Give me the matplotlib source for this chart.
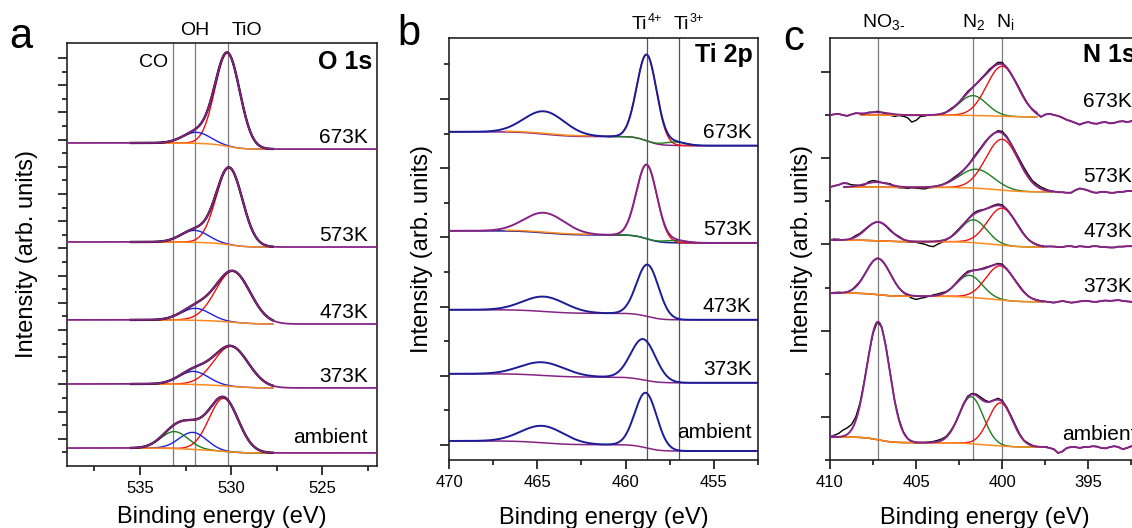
import numpy as np
import matplotlib.pyplot as plt
import matplotlib.transforms as mtransforms
from matplotlib.ticker import MultipleLocator, FixedLocator

plt.rcParams['font.family'] = ['Liberation Sans', 'DejaVu Sans']
plt.rcParams['mathtext.fontset'] = 'custom'
plt.rcParams['mathtext.rm'] = 'Liberation Sans'
plt.rcParams['mathtext.it'] = 'Liberation Sans:italic'
plt.rcParams['mathtext.bf'] = 'Liberation Sans:bold'

PURPLE = '#862486'
NAVY = '#1c1c96'
ORANGE = '#ff8a1c'
RED = '#ee1111'
GREEN = '#1e7d1e'
BLUE = '#2020dd'
LINE_GREY = '#7a7a7a'

TEMPS = ['673K', '573K', '473K', '373K', 'ambient']

# ---- O 1s (panel a), arb. units ----
O1S_BG_LEFT = [23.75, 16.47, 10.74, 6.03, 1.32]
O1S_BG_RIGHT = [23.30, 16.10, 10.44, 5.74, 0.96]
O1S_TIO_POS = [530.2, 530.1, 529.9, 530.0, 530.4]
O1S_TIO_HEIGHT = [6.84, 5.66, 3.75, 2.94, 3.90]
O1S_TIO_SIGMA = [0.68, 0.72, 0.95, 0.95, 0.80]
O1S_OH_POS = [531.9, 532.0, 531.95, 532.05, 532.1]
O1S_OH_HEIGHT = [0.81, 0.88, 0.88, 0.96, 1.25]
O1S_OH_SIGMA = [0.75, 0.75, 0.80, 0.80, 0.75]
O1S_CO_POS = [533.1, 533.1, 533.1, 533.1, 533.1]
O1S_CO_HEIGHT = [0.0, 0.0, 0.0, 0.0, 1.25]
O1S_CO_SIGMA = [0.75, 0.75, 0.75, 0.75, 0.75]
O1S_LINES = {'CO': 533.2, 'OH': 532.0, 'TiO': 530.15}

# ---- Ti 2p (panel b) ----
TI_BG_LEFT = [9.05, 6.19, 3.91, 2.06, 0.12]
TI_BG_RIGHT = [8.65, 5.84, 3.62, 1.80, -0.17]
TI_P32_POS = [458.8, 458.8, 458.75, 459.0, 458.85]
TI_P32_HEIGHT = [2.49, 2.14, 1.50, 1.18, 1.59]
TI_P32_SIGMA = [0.56, 0.58, 0.62, 0.70, 0.62]
TI_P12_POS = [464.6, 464.6, 464.6, 464.7, 464.7]
TI_P12_HEIGHT = [0.66, 0.58, 0.43, 0.38, 0.49]
TI_P12_SIGMA = [1.15, 1.15, 1.20, 1.25, 1.20]
TI3_POS = [457.2, 457.2, 457.2, 457.2, 457.2]
TI3_HEIGHT = [0.10, 0.07, 0.0, 0.0, 0.0]
TI3_SIGMA = [0.6, 0.6, 0.6, 0.6, 0.6]
TI_LINES = [458.8, 457.0]

# ---- N 1s (panel c) ----
N_BG_LEFT = [8.00, 6.33, 5.10, 3.87, 0.53]
N_BG_RIGHT = [7.96, 6.22, 4.94, 3.67, 0.30]
N_NI_POS = [400.0, 400.0, 400.0, 400.1, 400.1]
N_NI_HEIGHT = [1.16, 1.18, 0.86, 0.79, 1.00]
N_NI_SIGMA = [0.90, 0.95, 0.85, 0.85, 0.70]
N_N2_POS = [401.7, 401.5, 401.65, 401.9, 401.8]
N_N2_HEIGHT = [0.46, 0.44, 0.53, 0.51, 1.09]
N_N2_SIGMA = [0.80, 1.00, 0.75, 0.75, 0.70]
N_NO3_POS = [407.3, 407.3, 407.2, 407.2, 407.2]
N_NO3_HEIGHT = [0.07, 0.12, 0.44, 0.84, 2.74]
N_NO3_SIGMA = [0.70, 0.70, 0.70, 0.70, 0.66]
N_FIT_START = [408.2, 409.2, 409.8, 410.0, 410.0]
N_FIT_END = [398.0, 397.1, 397.6, 397.6, 397.4]
N_LINES = [407.2, 401.7, 400.0]

# raw-minus-fit residuals read every 0.25 eV from 410 to 392 eV
N_RESID = [
    [0.00, 0.02, 0.03, 0.00, -0.02, 0.01, 0.03, 0.01, -0.01, 0.01, 0.00, 0.02,
     0.00, -0.02, -0.04, -0.05, -0.02, -0.03, -0.06, -0.16, -0.12, -0.03, -0.02, 0.01,
     0.00, -0.02, -0.03, 0.00, 0.02, 0.01, 0.00, 0.02, 0.03, 0.01, 0.00, 0.02,
     0.02, 0.03, 0.02, 0.04, 0.04, 0.00, -0.02, 0.01, 0.03, 0.02, 0.00, -0.01,
     -0.02, -0.05, 0.03, 0.06, 0.04, 0.02, -0.02, -0.07, -0.10, -0.14, -0.18, -0.14,
     -0.12, -0.15, -0.16, -0.13, -0.12, -0.15, -0.14, -0.11, -0.10, -0.12, -0.10, -0.08,
     -0.09],
    [0.00, 0.03, 0.05, 0.09, 0.08, 0.04, 0.02, -0.01, -0.02, 0.03, 0.04, 0.02,
     0.00, 0.01, 0.02, -0.01, -0.03, -0.02, -0.03, -0.01, -0.02, -0.03, -0.04, -0.02,
     -0.02, 0.00, 0.00, 0.01, 0.02, 0.03, 0.02, 0.01, 0.00, 0.02, 0.03, 0.02,
     0.02, 0.01, 0.00, 0.03, 0.04, 0.03, 0.02, 0.03, 0.05, 0.06, 0.06, 0.04,
     0.05, 0.04, 0.03, 0.01, 0.00, -0.01, -0.01, -0.02, -0.02, 0.04, 0.08, 0.06,
     0.03, -0.01, -0.02, 0.00, 0.00, -0.02, -0.02, 0.00, 0.00, 0.02, 0.02, 0.01,
     0.00],
    [0.00, 0.02, 0.02, -0.01, -0.02, 0.01, 0.03, 0.02, 0.02, 0.01, 0.00, 0.00,
     0.00, -0.01, -0.02, 0.00, 0.02, 0.00, -0.03, -0.02, -0.02, -0.04, -0.06, -0.10,
     -0.12, -0.07, -0.04, -0.01, 0.00, 0.02, 0.02, 0.01, 0.00, 0.02, 0.03, 0.02,
     0.00, 0.01, 0.02, 0.03, 0.03, 0.01, 0.00, 0.01, 0.02, 0.01, 0.00, 0.00,
     0.01, 0.00, 0.00, 0.01, 0.01, 0.00, 0.00, 0.02, 0.02, 0.00, 0.02, 0.01,
     0.00, 0.02, 0.02, 0.00, 0.00, -0.01, -0.01, 0.01, 0.01, 0.02, 0.02, 0.00,
     0.00],
    [0.00, 0.01, 0.02, 0.00, -0.01, 0.00, 0.02, 0.01, 0.00, 0.00, 0.00, 0.01,
     0.00, 0.00, 0.01, 0.00, 0.00, -0.01, -0.03, -0.06, -0.08, -0.05, -0.03, 0.00,
     0.02, 0.03, 0.03, 0.01, 0.00, 0.01, 0.02, 0.02, 0.03, 0.01, 0.00, 0.01,
     0.02, 0.01, 0.00, 0.02, 0.03, 0.01, 0.00, 0.01, 0.02, 0.01, 0.00, 0.00,
     0.01, 0.00, 0.00, -0.01, -0.02, 0.00, 0.02, 0.00, -0.02, -0.01, 0.01, 0.02,
     0.02, 0.00, 0.00, 0.02, 0.03, 0.02, 0.03, 0.04, 0.02, 0.01, 0.00, 0.00,
     0.00],
    [0.00, 0.04, 0.08, 0.14, 0.15, 0.12, 0.08, 0.04, 0.02, 0.00, -0.02, 0.00,
     0.02, 0.03, 0.02, 0.00, 0.02, 0.01, 0.00, -0.02, -0.02, 0.00, 0.00, 0.01,
     0.02, 0.03, 0.03, 0.02, 0.02, 0.00, 0.00, 0.02, 0.03, 0.02, 0.03, 0.04,
     0.03, 0.00, 0.01, 0.03, 0.03, 0.02, 0.03, 0.04, 0.02, 0.00, 0.02, 0.01,
     0.00, 0.00, 0.00, -0.02, -0.05, -0.14, -0.10, -0.02, 0.00, 0.00, -0.02, 0.00,
     0.00, 0.02, 0.01, -0.02, -0.03, 0.00, 0.02, 0.00, -0.05, -0.02, 0.02, -0.01,
     -0.04],
]

W, H = 1132, 528


def gauss(x, pos, height, sigma):
    return height * np.exp(-0.5 * ((x - pos) / sigma) ** 2)


def shirley(x, left, right, peaks):
    # x runs from high to low binding energy
    cum = np.cumsum(peaks[::-1])[::-1]
    return right + (left - right) * cum / cum[0]


def axes_px(fig, left, top, right, bottom):
    return fig.add_axes([left / W, 1 - bottom / H, (right - left) / W, (bottom - top) / H])


def style_axes(ax, xlim, ylim, ymajor, yminor, xlab_y, ylab_x):
    ax.set_xlim(*xlim)
    ax.set_ylim(*ylim)
    ax.xaxis.set_major_locator(MultipleLocator(5))
    ax.xaxis.set_minor_locator(MultipleLocator(2.5))
    ax.yaxis.set_major_locator(FixedLocator(ymajor))
    ax.yaxis.set_minor_locator(FixedLocator(yminor))
    ax.tick_params(which='both', direction='out', top=False, right=False,
                   width=1.1, labelsize=12, pad=4, labelleft=False)
    ax.tick_params(which='major', length=6.5)
    ax.tick_params(which='minor', length=3.5)
    for s in ax.spines.values():
        s.set_linewidth(1.2)
        s.set_color('#222222')
    ax.set_xlabel('Binding energy (eV)', fontsize=17)
    ax.xaxis.set_label_coords(0.5, xlab_y)
    ax.xaxis.label.set_verticalalignment('center')
    ax.set_ylabel('Intensity (arb. units)', fontsize=17)
    ax.yaxis.set_label_coords(ylab_x, 0.5)
    ax.yaxis.label.set_verticalalignment('center')


def ion_label(ax, trans, x, y, base, sup):
    # element name ending at x, charge written small just after it
    ax.text(x, y, base, transform=trans, ha='right', va='center', fontsize=14)
    ax.annotate(sup, xy=(x, y), xycoords=trans, xytext=(0.8, 4.5),
                textcoords='offset points', ha='left', va='center', fontsize=9)


fig = plt.figure(figsize=(W / 100, H / 100), dpi=100)

# ================= panel a: O 1s =================
ax = axes_px(fig, 67, 43, 377, 466)
style_axes(ax, (539, 522), (0, 31.1), range(2, 31, 2), range(1, 30, 2), -0.12, -0.129)
x = np.linspace(539, 522, 1200)
for v in O1S_LINES.values():
    ax.axvline(v, color=LINE_GREY, lw=0.9, zorder=1)
for i, t in enumerate(TEMPS):
    tio = gauss(x, O1S_TIO_POS[i], O1S_TIO_HEIGHT[i], O1S_TIO_SIGMA[i])
    oh = gauss(x, O1S_OH_POS[i], O1S_OH_HEIGHT[i], O1S_OH_SIGMA[i])
    co = gauss(x, O1S_CO_POS[i], O1S_CO_HEIGHT[i], O1S_CO_SIGMA[i])
    total = tio + oh + co
    bg = shirley(x, O1S_BG_LEFT[i], O1S_BG_RIGHT[i], total)
    fit = (x <= 535.5) & (x >= 527.7)
    ax.plot(x[fit], (bg + tio)[fit], color=RED, lw=1.0, zorder=2)
    ax.plot(x[fit], (bg + oh)[fit], color=BLUE, lw=1.0, zorder=2)
    if O1S_CO_HEIGHT[i] > 0:
        ax.plot(x[fit], (bg + co)[fit], color=GREEN, lw=1.0, zorder=2)
    ax.plot(x[fit], bg[fit], color=ORANGE, lw=1.1, zorder=3)
    ax.plot(x[fit], (bg + total)[fit], color='black', lw=1.7, zorder=4)
    ax.plot(x, bg + total, color=PURPLE, lw=1.3, zorder=5)
    ax.annotate(t, xy=(522.5, O1S_BG_RIGHT[i]), xytext=(0, 11 if t == 'ambient' else 8),
                textcoords='offset points', ha='right', va='center', fontsize=15)
tr = mtransforms.blended_transform_factory(ax.transData, ax.transAxes)
ax.text(533.45, 0.955, 'CO', transform=tr, ha='right', va='center', fontsize=14)
ax.text(532.0, 1.03, 'OH', transform=tr, ha='center', va='center', fontsize=14)
ax.text(529.95, 1.03, 'TiO', transform=tr, ha='left', va='center', fontsize=14)
ax.text(0.984, 0.955, 'O 1s', transform=ax.transAxes, ha='right', va='center',
        fontsize=18, fontweight='bold')

# ================= panel b: Ti 2p =================
ax = axes_px(fig, 449, 38, 758, 460)
style_axes(ax, (470, 452.5), (-0.43, 11.76), range(0, 11, 2), range(1, 12, 2), -0.137, -0.087)
x = np.linspace(470, 452.5, 1200)
for v in TI_LINES:
    ax.axvline(v, color='#555555', lw=0.9, zorder=1)
for i, t in enumerate(TEMPS):
    p32 = gauss(x, TI_P32_POS[i], TI_P32_HEIGHT[i], TI_P32_SIGMA[i])
    p12 = gauss(x, TI_P12_POS[i], TI_P12_HEIGHT[i], TI_P12_SIGMA[i])
    ti3 = gauss(x, TI3_POS[i], TI3_HEIGHT[i], TI3_SIGMA[i])
    total = p32 + p12 + ti3
    bg = shirley(x, TI_BG_LEFT[i], TI_BG_RIGHT[i], total)
    env_c, bg_c = (PURPLE, NAVY) if t == '573K' else (NAVY, PURPLE)
    ax.plot(x, bg, color=bg_c, lw=1.1, zorder=2)
    if TI3_HEIGHT[i] > 0:
        seg = (x <= 466.8) & (x >= 461.8)
        ax.plot(x[seg], bg[seg] + 0.02, color=ORANGE, lw=1.1, zorder=2)
        comp = (x <= 461.0) & (x >= 455.8)
        ax.plot(x[comp], (bg + p32)[comp], color=RED, lw=1.0, zorder=3)
        ax.plot(x[comp], (bg + ti3)[comp], color=GREEN, lw=1.0, zorder=3)
    ax.plot(x, bg + total, color=env_c, lw=1.4, zorder=4)
    ax.annotate(t, xy=(452.85, TI_BG_RIGHT[i]), xytext=(0, 13 if t == 'ambient' else 9.5),
                textcoords='offset points', ha='right', va='center', fontsize=15)
tr = mtransforms.blended_transform_factory(ax.transData, ax.transAxes)
ion_label(ax, tr, 458.8, 1.031, 'Ti', '4+')
ion_label(ax, tr, 456.42, 1.031, 'Ti', '3+')
ax.text(0.984, 0.96, 'Ti 2p', transform=ax.transAxes, ha='right', va='center',
        fontsize=18, fontweight='bold')

# ================= panel c: N 1s =================
ax = axes_px(fig, 830, 38, 1140, 460)
style_axes(ax, (410, 392), (0, 9.79), range(1, 10, 2), range(0, 9, 2), -0.137, -0.09)
x = np.linspace(410, 392, 1200)
for v in N_LINES:
    ax.axvline(v, color=LINE_GREY, lw=0.9, zorder=1)
for i, t in enumerate(TEMPS):
    ni = gauss(x, N_NI_POS[i], N_NI_HEIGHT[i], N_NI_SIGMA[i])
    n2 = gauss(x, N_N2_POS[i], N_N2_HEIGHT[i], N_N2_SIGMA[i])
    no3 = gauss(x, N_NO3_POS[i], N_NO3_HEIGHT[i], N_NO3_SIGMA[i])
    total = ni + n2 + no3
    bg = shirley(x, N_BG_LEFT[i], N_BG_RIGHT[i], total)
    model = bg + total
    e = np.linspace(410, 392, len(N_RESID[i]))
    raw = np.interp(e, x[::-1], model[::-1]) + np.array(N_RESID[i])
    fit = (x <= N_FIT_START[i]) & (x >= N_FIT_END[i])
    ax.plot(e, raw, color='black', lw=1.0, zorder=2)
    ax.plot(x[fit], (bg + n2)[fit], color=GREEN, lw=1.0, zorder=3)
    ax.plot(x[fit], (bg + ni)[fit], color=RED, lw=1.0, zorder=3)
    ax.plot(x[fit], bg[fit], color=ORANGE, lw=1.1, zorder=3)
    ax.plot(x[fit], model[fit], color=PURPLE, lw=1.4, zorder=4)
    left = e >= N_FIT_START[i] - 0.25
    right = e <= N_FIT_END[i] + 0.25
    if left.sum() > 1:
        ax.plot(e[left], raw[left], color=PURPLE, lw=1.4, zorder=4)
    ax.plot(e[right], raw[right], color=PURPLE, lw=1.4, zorder=4)
    lx = 396.5 if t == 'ambient' else 395.3
    ax.annotate(t, xy=(lx, N_BG_RIGHT[i]), xytext=(0, 9 if t == 'ambient' else 11),
                textcoords='offset points', ha='left', va='center', fontsize=15)
tr = mtransforms.blended_transform_factory(ax.transData, ax.transAxes)
ax.text(408.14, 1.038, 'NO$_{3\u2010}$', transform=tr, ha='left', va='center', fontsize=14)
ax.text(402.34, 1.038, 'N$_2$', transform=tr, ha='left', va='center', fontsize=14)
ax.text(400.37, 1.038, 'N$_\\mathrm{i}$', transform=tr, ha='left', va='center', fontsize=14)
ax.text(0.816, 0.96, 'N 1s', transform=ax.transAxes, ha='left', va='center',
        fontsize=18, fontweight='bold')

# panel letters
fig.text(21 / W, 1 - 37 / H, 'a', ha='center', va='center', fontsize=30)
fig.text(409 / W, 1 - 34 / H, 'b', ha='center', va='center', fontsize=30)
fig.text(794 / W, 1 - 39 / H, 'c', ha='center', va='center', fontsize=30)

fig.savefig('out.png', dpi=100)
